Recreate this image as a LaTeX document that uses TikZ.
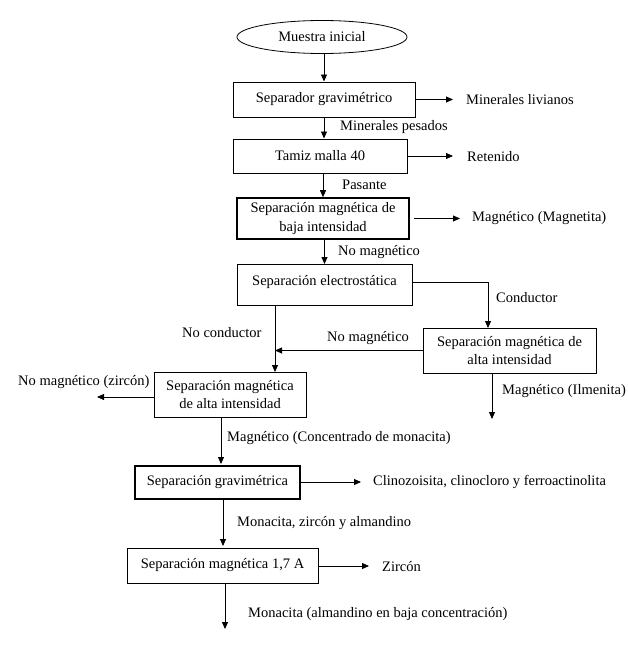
\documentclass[tikz,border=0pt]{standalone}
\usepackage{fontspec}
\setmainfont{Liberation Serif}
\usetikzlibrary{arrows.meta,shapes.geometric}
\begin{document}
\begin{tikzpicture}[x=1pt,y=-1pt,
  every node/.style={font=\fontsize{14.5}{18.5}\selectfont},
  box/.style={draw,line width=1pt,align=center,inner sep=0pt},
  arr/.style={line width=0.8pt,-{Triangle[length=7pt,width=6pt]}},
  ln/.style={line width=0.8pt},
  lab/.style={anchor=west,inner sep=0pt}]
\useasboundingbox (0,0) rectangle (628,648);
% nodes
\node[draw,ellipse,line width=0.8pt,minimum width=170pt,minimum height=33pt,inner sep=0pt] (ell) at (322,37) {Muestra inicial};
\node[box,minimum width=182pt,minimum height=35pt] (b1) at (324,99.5) {Separador gravimétrico};
\node[box,minimum width=174pt,minimum height=34pt] (b2) at (320,156) {Tamiz malla 40};
\node[box,line width=1.6pt,minimum width=172pt,minimum height=41pt] (b3) at (323,218.5) {Separación magnética de\\baja intensidad};
\node[box,minimum width=175pt,minimum height=41pt,text depth=10pt] (b4) at (324.5,285) {Separación electrostática};
\node[box,minimum width=173pt,minimum height=45pt] (b5) at (509.5,350.5) {Separación magnética de\\alta intensidad};
\node[box,minimum width=152pt,minimum height=45pt] (b6) at (230,394.5) {Separación magnética\\de alta intensidad};
\node[box,line width=1.2pt,minimum width=165pt,minimum height=33pt] (b7) at (217.5,482.5) {Separación gravimétrica};
\node[box,minimum width=191pt,minimum height=35pt] (b8) at (222.5,565.5) {Separación magnética 1,7 A};
% coordinates
\coordinate (e1) at (453,99);
\coordinate (e2) at (453,156);
\coordinate (s3) at (414,218.5);
\coordinate (e3) at (460,218.5);
\coordinate (v5) at (488,328);
\coordinate (v6) at (275,372);
\coordinate (e5) at (492,419);
\coordinate (e6) at (97,397);
\coordinate (v7) at (221,464);
\coordinate (v8) at (223,546);
\coordinate (e7) at (361,482);
\coordinate (e8r) at (369,566);
\coordinate (e8) at (225,629);
% connectors
\draw[arr] (b1.north |- ell.south) -- (b1.north);
\draw[arr] (b1.south) -- (b1.south |- b2.north);
\draw[arr] (b3.north |- b2.south) -- (b3.north);
\draw[arr] (b4.north |- b3.south) -- (b4.north);
\draw[arr] (b1.east) -- (b1.east -| e1);
\draw[arr] (b2.east) -- (b2.east -| e2);
\draw[arr] (s3) -- (e3);
\draw[arr] ([yshift=3pt]b4.east) -| (v5);
\draw[arr] (v6 |- b4.south) -- (v6);
\draw[arr] (b5.west) -- (b5.west -| v6);
\draw[arr] (e5 |- b5.south) -- (e5);
\draw[arr] ([yshift=-2.5pt]b6.west) -- (e6);
\draw[arr] (v7 |- b6.south) -- (v7);
\draw[arr] (b7.east |- e7) -- (e7);
\draw[arr] (v8 |- b7.south) -- (v8);
\draw[arr] (b8.east |- e8r) -- (e8r);
\draw[arr] (e8 |- b8.south) -- (e8);
% labels
\node[lab] (l1) at (466,100) {Minerales livianos};
\node[lab] (l2) at (340,127) {Minerales pesados};
\node[lab] (l3) at (467,157) {Retenido};
\node[lab] (l4) at (342,185) {Pasante};
\node[lab] (l5) at (472,218) {Magnético (Magnetita)};
\node[lab] (l6) at (338,252) {No magnético};
\node[lab] (l7) at (496,298) {Conductor};
\node[lab] (l8) at (182,333) {No conductor};
\node[lab] (l9) at (327,338) {No magnético};
\node[lab] (l10) at (18,382) {No magnético (zircón)};
\node[lab] (l11) at (502,391) {Magnético (Ilmenita)};
\node[lab] (l12) at (227,438) {Magnético (Concentrado de monacita)};
\node[lab] (l13) at (373,482) {Clinozoisita, clinocloro y ferroactinolita};
\node[lab] (l14) at (237,523) {Monacita, zircón y almandino};
\node[lab] (l15) at (382,567) {Zircón};
\node[lab] (l16) at (248,614) {Monacita (almandino en baja concentración)};
\end{tikzpicture}
\end{document}
